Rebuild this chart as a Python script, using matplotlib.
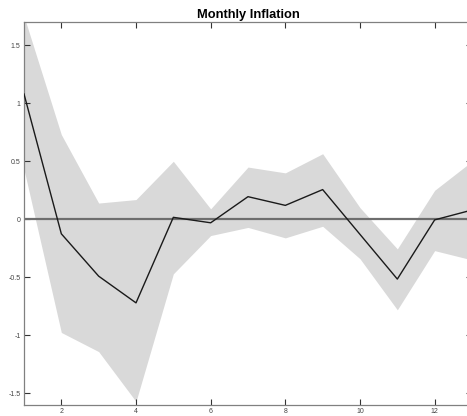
import matplotlib.pyplot as plt
import numpy as np

plt.rcParams['font.family'] = ['Liberation Sans', 'DejaVu Sans']

months = np.arange(1, 14)
irf = [1.08, -0.125, -0.49, -0.72, 0.017, -0.03, 0.195, 0.12, 0.256, -0.13, -0.515, -0.005, 0.08]
upper = [1.75, 0.73, 0.14, 0.17, 0.50, 0.09, 0.45, 0.40, 0.565, 0.10, -0.255, 0.25, 0.50]
lower = [0.43, -0.975, -1.14, -1.57, -0.47, -0.14, -0.07, -0.16, -0.06, -0.34, -0.78, -0.27, -0.35]

xticks = [2, 4, 6, 8, 10, 12]
yticks = [-1.5, -1, -0.5, 0, 0.5, 1, 1.5]
ytick_labels = ['-1.5', '-1', '-0.5', '0', '0.5', '1', '1.5']


def main():
    fig = plt.figure(figsize=(4.67, 4.16), dpi=100)
    ax = fig.add_axes([24 / 467, 11 / 416, 448 / 467, 383 / 416])

    ax.fill_between(months, lower, upper, color='#d9d9d9', linewidth=0, zorder=1)
    ax.plot([1, 13], [0, 0], color='#6e6e6e', linewidth=1.6, zorder=2)
    ax.plot(months, irf, color='#1a1a1a', linewidth=1.0, zorder=3)

    ax.set_xlim(1, 13)
    ax.set_ylim(-1.6, 1.7)
    ax.set_xticks(xticks)
    ax.set_xticklabels([str(t) for t in xticks])
    ax.set_yticks(yticks)
    ax.set_yticklabels(ytick_labels)
    ax.tick_params(direction='in', length=4, width=0.8, top=True, right=True,
                   labelsize=5, labelcolor='#444444', color='#333333', pad=2.5)

    for side in ['left', 'right', 'top', 'bottom']:
        ax.spines[side].set_color('#808080')
        ax.spines[side].set_linewidth(0.9)

    ax.set_title('Monthly Inflation', fontsize=9.3, fontweight='bold', pad=3)

    fig.savefig('out.png', dpi=100)


if __name__ == '__main__':
    main()
